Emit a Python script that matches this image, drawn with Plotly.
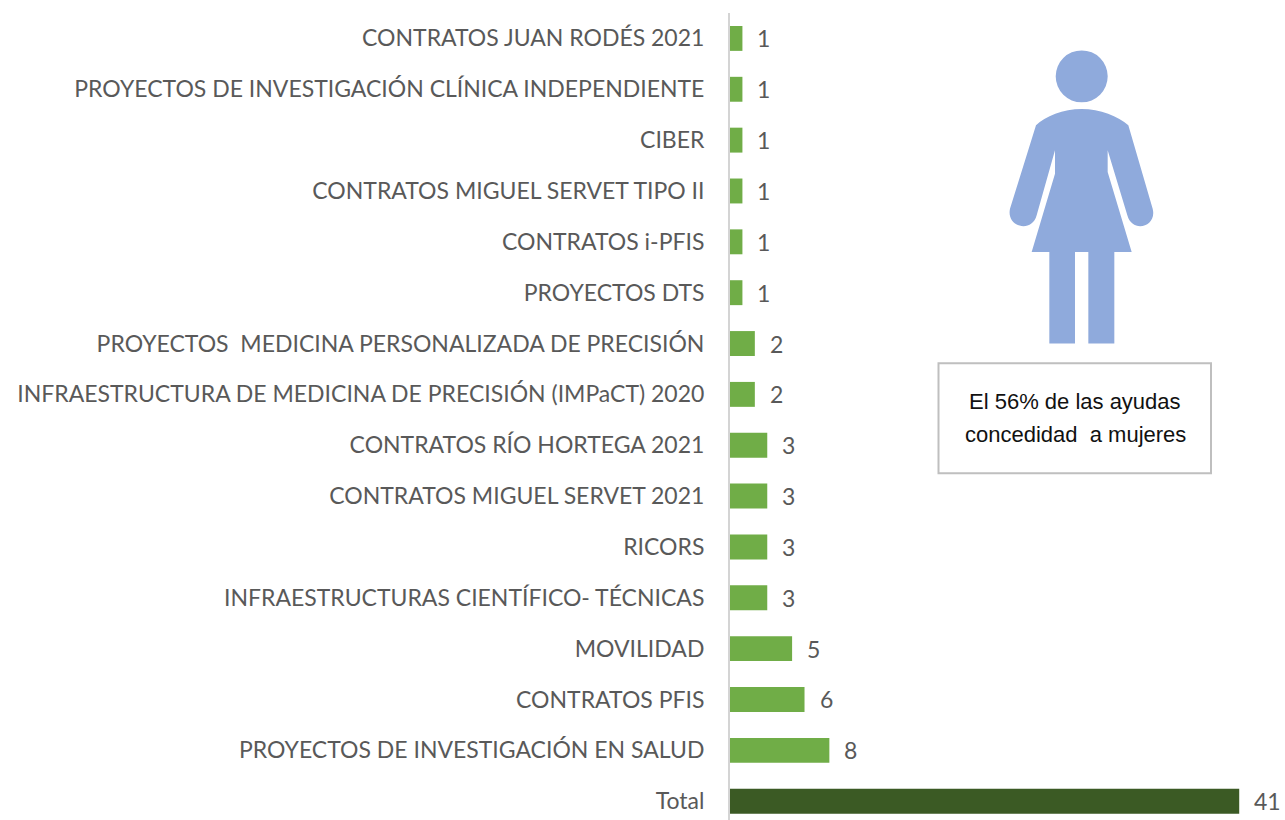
import plotly.graph_objects as go

categories = ["Total", "PROYECTOS DE INVESTIGACIÓN EN SALUD", "CONTRATOS PFIS", "MOVILIDAD",
              "INFRAESTRUCTURAS CIENTÍFICO- TÉCNICAS", "RICORS", "CONTRATOS MIGUEL SERVET 2021",
              "CONTRATOS RÍO HORTEGA 2021", "INFRAESTRUCTURA DE MEDICINA DE PRECISIÓN (IMPaCT) 2020",
              "PROYECTOS  MEDICINA PERSONALIZADA DE PRECISIÓN", "PROYECTOS DTS", "CONTRATOS i-PFIS",
              "CONTRATOS MIGUEL SERVET TIPO II", "CIBER",
              "PROYECTOS DE INVESTIGACIÓN CLÍNICA INDEPENDIENTE", "CONTRATOS JUAN RODÉS 2021"]
values = [41, 8, 6, 5, 3, 3, 3, 3, 2, 2, 1, 1, 1, 1, 1, 1]
note_lines = ["El 56% de las ayudas", "concedidad  a mujeres"]
GREEN, DARK = "#70ad47", "#3b5a24"
colors = [DARK] + [GREEN] * 15

W, H = 1285, 820
L, T, R, B = 730, 12.6, 1285, 820


def px(x, y):
    return f"{(x - L) / (R - L):.5f},{(B - y) / (B - T):.5f}"


def z(zx, zy):
    return px(930 + zx / 3, 30 + zy / 3)


def path(items):
    out = []
    for cmd, *pts in items:
        out.append(cmd + " ".join(z(*p) for p in pts))
    return " ".join(out) + " Z"


body = path([
    ("M", (455, 236)), ("C", (400, 236), (345, 258), (318, 285)),
    ("L", (240, 535)), ("C", (228, 590), (305, 610), (320, 555)),
    ("L", (375, 360)), ("L", (375, 430)), ("L", (305, 665)), ("L", (358, 665)), ("L", (358, 940)),
    ("L", (435, 940)), ("L", (435, 665)), ("L", (475, 665)), ("L", (475, 940)), ("L", (553, 940)),
    ("L", (553, 665)), ("L", (605, 665)), ("L", (533, 425)), ("L", (533, 360)), ("L", (592, 555)),
    ("C", (607, 610), (682, 590), (668, 535)), ("L", (595, 285)),
    ("C", (565, 258), (510, 236), (455, 236)),
])


def fx(x):
    return (x - L) / (R - L)


def fy(y):
    return (B - y) / (B - T)


fig = go.Figure(go.Bar(
    x=values, y=categories, orientation="h", marker=dict(color=colors, line_width=0),
    width=0.49, hoverinfo="skip"))

annotations = [dict(x=v, y=c, xref="x", yref="y", text=str(v), showarrow=False, xanchor="left",
                    xshift=13, font=dict(family="Lato", size=23, color="#595959"))
               for v, c in zip(values, categories)]
for line, ypos in zip(note_lines, [401, 434]):
    annotations.append(dict(xref="paper", yref="paper", x=fx(1075), y=fy(ypos),
                            text=line, showarrow=False, align="center",
                            font=dict(family="Liberation Sans", size=22, color="#111111")))

fig.update_layout(
    width=W, height=H, autosize=False,
    margin=dict(l=L, r=W - R, t=T, b=H - B, pad=0),
    paper_bgcolor="white", plot_bgcolor="white", showlegend=False,
    xaxis=dict(range=[0, (R - L) / 12.42], visible=False, fixedrange=True),
    yaxis=dict(type="category", categoryorder="array", categoryarray=categories, range=[-0.37, 15.5],
               showline=True, linecolor="#d4d4d4", linewidth=2, showgrid=False, ticks="",
               ticklabelstandoff=19, tickfont=dict(family="Lato", size=23, color="#595959"),
               fixedrange=True, automargin=False),
    annotations=annotations,
    shapes=[
        dict(type="path", xref="paper", yref="paper", path="M" + body[1:], fillcolor="#8faadc", line_width=0),
        dict(type="circle", xref="paper", yref="paper", x0=fx(1055.7), x1=fx(1107.7), y0=fy(102), y1=fy(50),
             fillcolor="#8faadc", line_width=0),
        dict(type="rect", xref="paper", yref="paper", x0=fx(938.5), x1=fx(1211), y0=fy(473), y1=fy(363),
             fillcolor="white", line=dict(color="#bfbfbf", width=2)),
    ],
)
fig.write_html("out.html", config=dict(displayModeBar=False),
               post_script="document.body.style.margin='0';")
